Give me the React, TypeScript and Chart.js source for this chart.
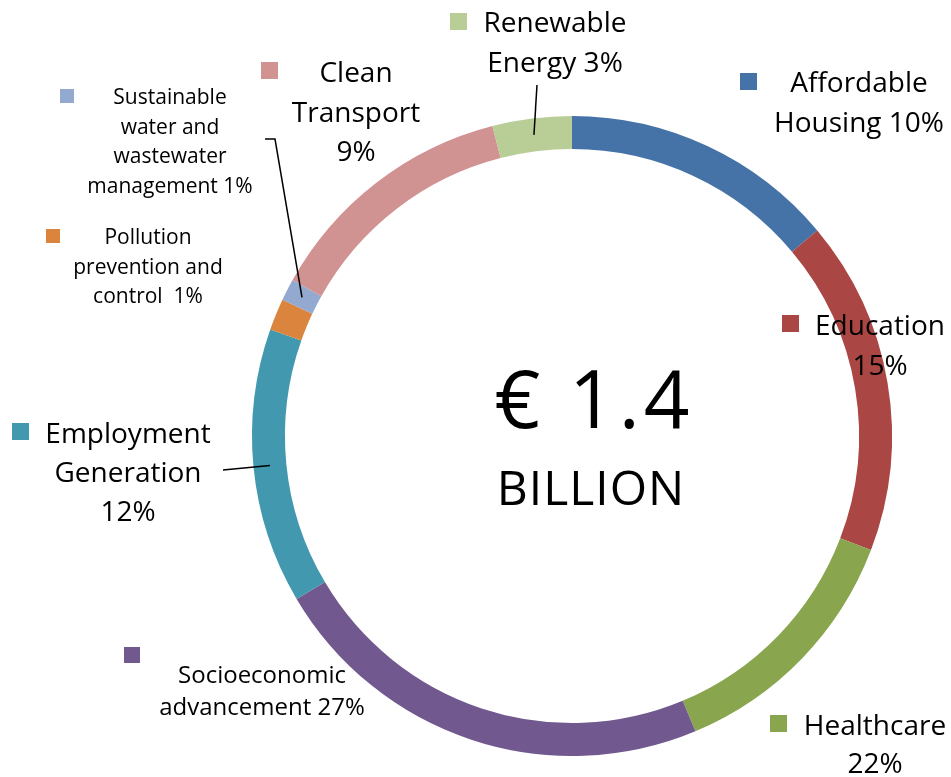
import React, { useEffect, useRef } from "react";
import { Chart, registerables } from "chart.js";

Chart.register(...registerables);

// ---- data ----
const categories = [
  "Affordable Housing",
  "Education",
  "Healthcare",
  "Socioeconomic advancement",
  "Employment Generation",
  "Pollution prevention and control",
  "Sustainable water and wastewater management",
  "Clean Transport",
  "Renewable Energy",
];
const shares = [13.9, 16.9, 12.9, 22.8, 13.9, 1.6, 1.1, 12.9, 4.0];
const labelPercents = ["10%", "15%", "22%", "27%", "12%", "1%", "1%", "9%", "3%"];
const colors = [
  "#4572A7",
  "#AA4643",
  "#89A54E",
  "#71588F",
  "#4198AF",
  "#DB843D",
  "#93A9CF",
  "#D19392",
  "#B9CD96",
];
const centerValue = "€ 1.4";
const centerUnit = "BILLION";

// ---- label layout (text lines, {p} = percent) ----
const labelLines = [
  ["Affordable", "Housing {p}"],
  ["Education", "{p}"],
  ["Healthcare", "{p}"],
  ["Socioeconomic", "advancement {p}"],
  ["Employment", "Generation", "{p}"],
  ["Pollution", "prevention and", "control  {p}"],
  ["Sustainable", "water and", "wastewater", "management {p}"],
  ["Clean", "Transport", "{p}"],
  ["Renewable", "Energy {p}"],
];
// cx, first baseline, line height, font size, square x, square y, square size
const labelBoxes = [
  [859, 92, 40, 28, 740, 73, 17],
  [880, 335, 40, 28, 782, 315, 17],
  [875, 735, 38, 28, 770, 715, 17],
  [262, 683, 32, 24, 124, 647, 16],
  [128, 443, 39, 28, 12, 423, 17],
  [148, 244, 29.5, 21, 46, 229, 14],
  [170, 104, 29.5, 21, 60, 89, 14],
  [356, 82, 39.5, 28, 261, 62, 17],
  [555, 32, 40, 28, 450, 13, 17],
];
// leader lines: index -> polyline start points (end computed from the arc)
const leaders: Record<number, number[][]> = {
  8: [[537, 85]],
  4: [[223, 470]],
  6: [[265, 139], [275, 139]],
};

const FONT = '"Open Sans", "DejaVu Sans", sans-serif';

const labelPlugin = {
  id: "labels",
  afterDraw(chart: any) {
    const ctx = chart.ctx;
    const meta = chart.getDatasetMeta(0);
    ctx.save();
    // leader lines
    ctx.strokeStyle = "#000";
    ctx.lineWidth = 1.5;
    Object.keys(leaders).forEach((k) => {
      const i = Number(k);
      const arc: any = meta.data[i];
      const p = arc.getProps(["x", "y", "startAngle", "endAngle", "innerRadius", "outerRadius"], true);
      const mid = (p.startAngle + p.endAngle) / 2;
      const r = (p.innerRadius + p.outerRadius) / 2;
      const ex = p.x + Math.cos(mid) * r;
      const ey = p.y + Math.sin(mid) * r;
      const pts = leaders[i];
      ctx.beginPath();
      ctx.moveTo(pts[0][0], pts[0][1]);
      for (let j = 1; j < pts.length; j++) ctx.lineTo(pts[j][0], pts[j][1]);
      ctx.lineTo(ex, ey);
      ctx.stroke();
    });
    // labels
    ctx.fillStyle = "#000";
    ctx.textAlign = "center";
    ctx.textBaseline = "alphabetic";
    labelLines.forEach((lines, i) => {
      const [cx, by, lh, fs, sx, sy, ss] = labelBoxes[i];
      ctx.fillStyle = colors[i];
      ctx.fillRect(sx, sy, ss, ss);
      ctx.fillStyle = "#000";
      ctx.font = `${fs}px ${FONT}`;
      lines.forEach((ln, j) => {
        ctx.fillText(ln.replace("{p}", labelPercents[i]), cx, by + j * lh);
      });
    });
    // center text
    ctx.font = `80px ${FONT}`;
    try { (ctx as any).letterSpacing = "4px"; } catch (e) {}
    ctx.fillText(centerValue, 594, 428);
    try { (ctx as any).letterSpacing = "1px"; } catch (e) {}
    ctx.font = `48px ${FONT}`;
    ctx.fillText(centerUnit, 591, 505);
    try { (ctx as any).letterSpacing = "0px"; } catch (e) {}
    ctx.restore();
  },
};

export default function App() {
  const ref = useRef<HTMLCanvasElement>(null);
  useEffect(() => {
    if (!ref.current) return;
    const chart = new Chart(ref.current, {
      type: "doughnut",
      data: {
        labels: categories,
        datasets: [
          {
            data: shares,
            backgroundColor: colors,
            borderWidth: 0,
            hoverOffset: 0,
            offset: 0,
          },
        ],
      },
      options: {
        animation: false,
        responsive: false,
        cutout: "89.7%",
        layout: { padding: { left: 252, right: 59, top: 116, bottom: 21 } },
        plugins: {
          legend: { display: false },
          tooltip: { enabled: false },
        },
      },
      plugins: [labelPlugin],
    });
    return () => chart.destroy();
  }, []);
  return (
    <div style={{ position: "fixed", left: 0, top: 0, width: 951, height: 777, background: "#fff" }}>
      <canvas ref={ref} width={951} height={777} />
    </div>
  );
}
